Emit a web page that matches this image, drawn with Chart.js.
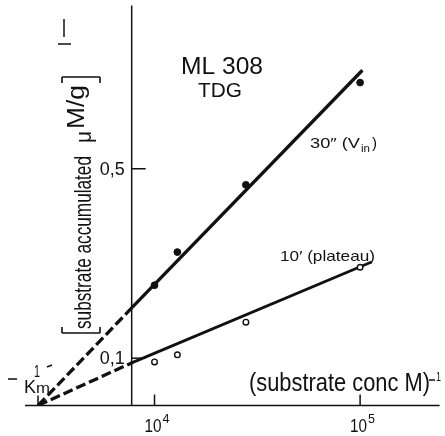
<!DOCTYPE html>
<html>
<head>
<meta charset="utf-8">
<script src="https://cdn.jsdelivr.net/npm/chart.js@4"></script>
<style>
  html, body { margin: 0; padding: 0; background: #fff; }
  canvas { display: block; }
</style>
</head>
<body>
<canvas id="lbChart" width="445" height="436"></canvas>
<script>
// reciprocal substrate concentration, in units of 10^4 M^-1
const invConc = [1, 2, 5, 10];
// reciprocal uptake, 30 s (initial rate) and 10 min (plateau)
const invUptake30s = [0.254, 0.324, 0.466, 0.682];
const invUptake10min = [0.092, 0.107, 0.176, 0.292];

// hand-fitted lines: x-intercept (-1/Km) and the solid segments
const negInvKm = -4.1;
const fit30sX = [0, 10.1];
const fit30sY = [0.206, 0.708];
const fit10minX = [0, 10.5];
const fit10minY = [0.090, 0.303];

// axes
const xRange = [-4.67, 13.48];
const yRange = [0, 0.845];
const xTicks = [1, 10];
const xTickExp = ['4', '5'];
const yTicks = [0.1, 0.5];
const yTickLabels = ['0,1', '0,5'];

const FONT = '"Liberation Sans", "Noto Sans", sans-serif';
const INK = '#111';

const pts = (xs, ys) => xs.map((x, i) => ({ x: x, y: ys[i] }));

const lineSet = (data, width, dash) => ({
    data: data,
    showLine: true,
    borderColor: INK,
    borderWidth: width,
    borderDash: dash || [],
    borderCapStyle: 'butt',
    pointRadius: 0,
    fill: false
});

// draw text squeezed or stretched to a given width (the lettering is condensed)
function fitText(ctx, text, x, y, width, size) {
    ctx.save();
    ctx.font = size + 'px ' + FONT;
    ctx.textAlign = 'left';
    const w = ctx.measureText(text).width;
    ctx.translate(x, y);
    ctx.scale(width / w, 1);
    ctx.fillText(text, 0, 0);
    ctx.restore();
}

function stroke(ctx, segs) {
    ctx.beginPath();
    segs.forEach(s => {
        ctx.moveTo(s[0], s[1]);
        ctx.lineTo(s[2], s[3]);
    });
    ctx.stroke();
}

const axesAndText = {
    id: 'axesAndText',
    afterDatasetsDraw(chart) {
        const ctx = chart.ctx;
        const xs = chart.scales.x;
        const ys = chart.scales.y;
        const area = chart.chartArea;
        const x0 = xs.getPixelForValue(0);
        const y0 = ys.getPixelForValue(0);

        ctx.save();
        ctx.strokeStyle = INK;
        ctx.fillStyle = INK;
        ctx.lineWidth = 1.5;
        ctx.textBaseline = 'alphabetic';

        // axes
        stroke(ctx, [[area.left, y0, area.right, y0], [x0, area.top, x0, y0]]);

        // y ticks (pointing right) and labels
        yTicks.forEach((v, i) => {
            const py = ys.getPixelForValue(v);
            stroke(ctx, [[x0, py, x0 + 14, py]]);
            fitText(ctx, yTickLabels[i], x0 - 32, py + 6, 25, 19);
        });

        // x ticks (pointing up) and labels 10^n
        xTicks.forEach((v, i) => {
            const px = xs.getPixelForValue(v);
            stroke(ctx, [[px, y0, px, y0 - 11]]);
            fitText(ctx, '10', px - 10, y0 + 26, 17, 19);
            fitText(ctx, xTickExp[i], px + 8, y0 + 17, 7, 13);
        });

        // -1/Km mark
        const pk = xs.getPixelForValue(negInvKm);
        stroke(ctx, [[pk, y0, pk, y0 - 10], [8, 379, 17, 379], [47, 367, 52, 365]]);
        fitText(ctx, '1', 34, 377, 6, 17);
        fitText(ctx, 'K', 24, 393, 12, 18);
        fitText(ctx, 'm', 36, 393, 14, 15);

        // x axis title
        fitText(ctx, '(substrate conc M)', 249, 391, 181, 25);
        stroke(ctx, [[429, 380, 435, 380]]);
        fitText(ctx, '1', 436, 381, 5, 13);

        // strain / substrate
        fitText(ctx, 'ML 308', 181, 74, 82, 24);
        fitText(ctx, 'TDG', 198, 97, 44, 21);

        // line labels
        fitText(ctx, '30\u2033 (V', 310, 148, 50, 15);
        fitText(ctx, 'in', 361, 152, 9, 11);
        fitText(ctx, ')', 372, 148, 5, 15);
        fitText(ctx, '10\u2032 (plateau)', 280, 261, 95, 15);

        // exponent -1 of the y title (rotated glyphs, drawn as strokes)
        stroke(ctx, [[58, 44, 71, 44], [64, 19, 64, 37]]);

        // y axis title, rotated
        ctx.translate(80, 205);
        ctx.rotate(-Math.PI / 2);
        ctx.lineWidth = 1.6;
        stroke(ctx, [
            [-122, -18, -128, -18], [-128, -18, -128, 20], [-128, 20, -122, 20],
            [122, -18, 128, -18], [128, -18, 128, 20], [128, 20, 122, 20]
        ]);
        fitText(ctx, 'substrate accumulated', -124, 11, 173, 24);
        fitText(ctx, '\u03bc', 62, 11, 12, 22);
        fitText(ctx, 'M/g', 76, 4, 44, 23);
        ctx.restore();
    }
};

const ctx = document.getElementById('lbChart').getContext('2d');
new Chart(ctx, {
    type: 'scatter',
    data: {
        datasets: [
            {
                data: pts(invConc, invUptake30s),
                pointRadius: 3.4,
                pointBackgroundColor: INK,
                pointBorderColor: INK,
                pointBorderWidth: 1,
                showLine: false
            },
            {
                data: pts(invConc, invUptake10min),
                pointRadius: 2.8,
                pointBackgroundColor: '#fff',
                pointBorderColor: INK,
                pointBorderWidth: 1.4,
                showLine: false
            },
            lineSet(pts(fit30sX, fit30sY), 3.3),
            lineSet([{ x: negInvKm, y: 0 }, { x: fit30sX[0], y: fit30sY[0] }], 3.3, [10, 4]),
            lineSet(pts(fit10minX, fit10minY), 2.8),
            lineSet([{ x: negInvKm, y: 0 }, { x: fit10minX[0], y: fit10minY[0] }], 3.3, [10, 4])
        ]
    },
    options: {
        responsive: false,
        animation: false,
        layout: { padding: { left: 25, right: 0, top: 5, bottom: 30.5 } },
        plugins: { legend: { display: false }, tooltip: { enabled: false } },
        scales: {
            x: { type: 'linear', min: xRange[0], max: xRange[1], display: false },
            y: { type: 'linear', min: yRange[0], max: yRange[1], display: false }
        }
    },
    plugins: [axesAndText]
});
</script>
</body>
</html>
